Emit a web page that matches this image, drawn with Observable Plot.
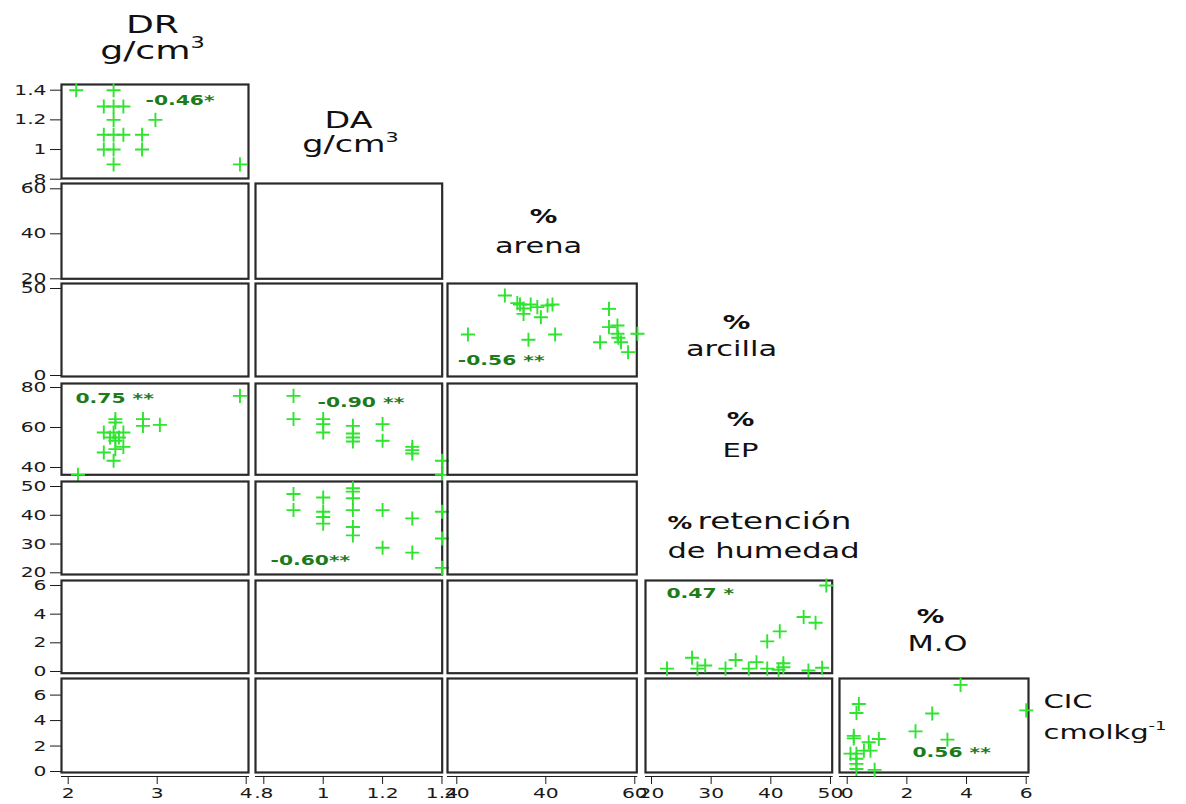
<!DOCTYPE html>
<html>
<head>
<meta charset="utf-8">
<script src="https://cdn.jsdelivr.net/npm/d3@7"></script>
<script src="https://cdn.jsdelivr.net/npm/@observablehq/plot@0.6"></script>
<style>
html, body { margin: 0; padding: 0; background: #fff; }
#chart { position: relative; width: 1186px; height: 804px; overflow: hidden; background: #fff; font-family: "DejaVu Sans", sans-serif; }
#chart .cell { position: absolute; }
#chart svg { overflow: visible; display: block; }
</style>
</head>
<body>
<div id="chart"></div>
<script>
// ---------------- DATA ----------------
// variables (rows / columns of the lower-triangular scatterplot matrix)
const colVars = ["DR", "DA", "arena", "ret", "MO"];
const rowVars = ["DA", "arena", "arcilla", "EP", "ret", "MO", "CIC"];
const panelsPerRow = [1, 2, 3, 3, 3, 4, 5];

// axis tick values per variable
const ticksDR = [2, 3, 4];
const ticksDA = [0.8, 1, 1.2, 1.4];
const ticksArena = [20, 40, 60];
const ticksArcilla = [0, 50];
const ticksEP = [40, 60, 80];
const ticksRet = [20, 30, 40, 50];
const ticksMO = [0, 2, 4, 6];
const ticksCIC = [0, 2, 4, 6];

// DR vs DA
const drDA_DR = [2.09, 2.51, 2.40, 2.51, 2.62, 2.51, 2.98, 2.40, 2.51, 2.62, 2.83, 2.40, 2.51, 2.83, 2.51, 3.93];
const drDA_DA = [1.40, 1.40, 1.29, 1.29, 1.29, 1.20, 1.20, 1.10, 1.10, 1.10, 1.10, 1.00, 1.00, 1.00, 0.90, 0.90];
// arena vs arcilla
const arAc_arena = [30.8, 33.6, 34.2, 35.0, 35.0, 36.6, 38.1, 38.9, 40.4, 41.5, 22.5, 36.1, 42.1, 54.2, 54.2, 56.1, 56.1, 52.2, 56.9, 60.6, 58.5, 56.3];
const arAc_arcilla = [46.0, 41.6, 40.8, 35.4, 38.5, 40.8, 39.3, 33.5, 40.2, 40.8, 23.6, 20.5, 23.6, 38.3, 27.8, 28.7, 24.0, 19.1, 19.1, 24.0, 13.4, 21.7];
// DR vs EP
const drEP_DR = [3.93, 2.53, 2.53, 2.84, 2.84, 3.03, 2.40, 2.51, 2.62, 2.47, 2.57, 2.53, 2.62, 2.53, 2.40, 2.51, 2.11];
const drEP_EP = [75.8, 64.2, 62.5, 64.2, 60.8, 61.3, 57.5, 57.5, 57.5, 55.0, 55.0, 53.4, 50.3, 49.2, 47.5, 43.4, 36.3];
// DA vs EP
const daEP_DA = [0.9, 0.9, 1.0, 1.0, 1.0, 1.1, 1.1, 1.1, 1.1, 1.2, 1.2, 1.3, 1.3, 1.3, 1.4, 1.4];
const daEP_EP = [75.8, 64.2, 64.2, 61.7, 57.5, 60.8, 57.0, 55.0, 53.0, 61.7, 53.4, 50.3, 48.7, 47.0, 43.4, 36.3];
// DA vs % retención de humedad
const daRet_DA = [0.9, 0.9, 1.0, 1.0, 1.0, 1.0, 1.1, 1.1, 1.1, 1.1, 1.1, 1.1, 1.2, 1.2, 1.3, 1.3, 1.4, 1.4, 1.4];
const daRet_ret = [47.4, 41.8, 46.2, 41.2, 39.4, 37.1, 49.4, 48.2, 45.9, 41.8, 35.9, 33.0, 41.8, 28.7, 38.9, 27.0, 41.2, 31.9, 21.7];
// % retención vs % M.O
const retMO_ret = [49.3, 45.5, 47.5, 41.5, 39.4, 22.6, 26.8, 27.7, 29.0, 32.4, 34.1, 36.3, 37.6, 39.4, 42.1, 42.1, 41.3, 46.3, 48.6];
const retMO_MO = [6.0, 3.8, 3.4, 2.8, 2.1, 0.2, 0.96, 0.2, 0.42, 0.2, 0.8, 0.2, 0.65, 0.2, 0.58, 0.3, 0.12, 0.07, 0.26];
// % M.O vs CIC
const moCIC_MO = [3.8, 6.0, 0.39, 0.31, 2.85, 2.29, 3.36, 0.22, 0.22, 0.72, 1.06, 0.56, 0.78, 0.11, 0.31, 0.31, 0.31, 0.31, 0.92];
const moCIC_CIC = [6.8, 4.8, 5.3, 4.6, 4.55, 3.15, 2.5, 2.8, 2.6, 2.3, 2.55, 1.64, 1.64, 1.4, 1.4, 1.0, 0.6, 0.2, 0.13];

// correlation labels
const corrLabels = {"0,0": "-0.46*", "2,2": "-0.56 **", "3,0": "0.75 **", "3,1": "-0.90 **", "4,1": "-0.60**", "5,3": "0.47 *", "6,4": "0.56 **"};

// diagonal variable titles
const titleLines = [
  ["DR", "g/cm³"],
  ["DA", "g/cm³"],
  ["%", "arena"],
  ["%", "arcilla"],
  ["%", "EP"],
  ["%", "retención", "de humedad"],
  ["%", "M.O"],
  ["CIC", "cmolkg⁻¹"]
];

// ---------------- BUILD ----------------
const zip = (a, b) => a.map((v, i) => ({x: v, y: b[i]}));
const panelData = {
  "0,0": zip(drDA_DR, drDA_DA),
  "2,2": zip(arAc_arena, arAc_arcilla),
  "3,0": zip(drEP_DR, drEP_EP),
  "3,1": zip(daEP_DA, daEP_EP),
  "4,1": zip(daRet_DA, daRet_ret),
  "5,3": zip(retMO_ret, retMO_MO),
  "6,4": zip(moCIC_MO, moCIC_CIC)
};
const varTicks = {DR: ticksDR, DA: ticksDA, arena: ticksArena, arcilla: ticksArcilla, EP: ticksEP, ret: ticksRet, MO: ticksMO, CIC: ticksCIC};

// ---------------- LAYOUT (pixels) ----------------
const colFrame = [[61, 248], [255, 441.7], [446.7, 636], [645, 831.7], [839, 1028]];
const colTickPx = [[67.7, 245.7], [263.3, 441.5], [456, 634], [651, 830], [846.7, 1025.7]];
const rowFrame = [[84.3, 178.3], [182.7, 278], [283, 376], [382.7, 474], [481, 574], [580, 672.7], [677.7, 771.7]];
const rowTickPx = [[90, 179], [188, 278], [288, 375], [386.7, 466.7], [486, 572.3], [585, 671], [694.3, 770.7]];
const corrPos = {"0,0": [145, 100], "2,2": [457, 360], "3,0": [75, 398], "3,1": [317, 402], "4,1": [270, 560], "5,3": [666, 593], "6,4": [912, 752]};
const titleLayout = [
  [{x: 152, y: 32, s: 25}, {x: 152, y: 58, s: 25}],
  [{x: 348, y: 127, s: 23}, {x: 350, y: 151, s: 23}],
  [{x: 543, y: 222, s: 19, b: 1}, {x: 538, y: 252, s: 21}],
  [{x: 736, y: 328, s: 19, b: 1}, {x: 731, y: 355, s: 21}],
  [{x: 740, y: 425, s: 19, b: 1}, {x: 740, y: 456, s: 20}],
  [{x: 667, y: 528, s: 17, b: 1, a: "start"}, {x: 697, y: 528, s: 22.5, a: "start"}, {x: 667, y: 557, s: 21, a: "start"}],
  [{x: 930, y: 622, s: 19, b: 1}, {x: 937, y: 650, s: 21}],
  [{x: 1043, y: 707, s: 20, a: "start"}, {x: 1043, y: 738, s: 20, a: "start"}]
];

const GREEN = "#2ee42e", DKGREEN = "#1c7c1c", FRAME = "#2a2a2a", INK = "#1a1a1a";
const STRETCH = 1.45;
const chart = document.getElementById("chart");
const fmt = d => String(d).replace(/^0\./, ".");

function supify(svg) {
  const map = {"⁻": "-", "¹": "1", "²": "2", "³": "3"};
  svg.querySelectorAll("text").forEach(t => {
    if (t.querySelector("tspan")) return;
    const m = (t.textContent || "").match(/^(.*?)([⁻¹²³]+)$/);
    if (!m) return;
    t.textContent = m[1];
    const ts = document.createElementNS("http://www.w3.org/2000/svg", "tspan");
    ts.setAttribute("font-size", "0.62em");
    ts.setAttribute("dy", "-0.7em");
    ts.textContent = [...m[2]].map(c => map[c]).join("");
    t.appendChild(ts);
  });
}
function stretch(svg, s) {
  svg.querySelectorAll("text").forEach(t => {
    const x = parseFloat(t.getAttribute("x")) || 0;
    const tr = t.getAttribute("transform") || "";
    t.setAttribute("transform", `${tr} translate(${x},0) scale(${s},1) translate(${-x},0)`);
  });
}
function place(svg, left, top, w) {
  supify(svg);
  stretch(svg, STRETCH);
  const d = document.createElement("div");
  d.className = "cell";
  d.style.left = left + "px";
  d.style.top = top + "px";
  d.style.width = w + "px";
  d.appendChild(svg);
  chart.appendChild(d);
}
const baseStyle = {background: "transparent", overflow: "visible", fontFamily: "DejaVu Sans", fontSize: "14px", color: INK, maxWidth: "none"};

function makePanel(r, c) {
  const key = `${r},${c}`;
  const [fl, fr] = colFrame[c], [ft, fb] = rowFrame[r];
  const xv = colVars[c], yv = rowVars[r];
  const xt = varTicks[xv], yt = varTicks[yv];
  const isLeft = c === 0, isBottom = r === 6;
  const gap = isBottom ? 4 : 0;
  const mL = isLeft ? 64 : 8, mR = 10, mT = 10, mB = isBottom ? 34 : 8;
  const W = fr - fl, H = fb - ft + gap;
  const [xp0, xp1] = colTickPx[c], [yp0, yp1] = rowTickPx[r];
  const marks = [
    Plot.frame({stroke: FRAME, strokeWidth: 2.2, insetBottom: gap}),
    Plot.dot(panelData[key] || [], {x: "x", y: "y", symbol: "plus", r: 4.6, stroke: GREEN, strokeWidth: 1.9})
  ];
  if (corrLabels[key]) {
    const [px, py] = corrPos[key];
    marks.push(Plot.text([corrLabels[key]], {text: d => d, frameAnchor: "top-left", dx: px - fl, dy: py - ft,
      textAnchor: "start", lineAnchor: "middle", fontWeight: "bold", fontSize: 14, fill: DKGREEN}));
  }
  const svg = Plot.plot({
    width: W + mL + mR, height: H + mT + mB,
    marginLeft: mL, marginRight: mR, marginTop: mT, marginBottom: mB,
    style: baseStyle,
    x: {domain: [d3.min(xt), d3.max(xt)], ticks: xt, tickFormat: fmt, insetLeft: xp0 - fl, insetRight: fr - xp1,
        axis: isBottom ? "bottom" : null, tickSize: 8, tickPadding: 4, line: isBottom, label: null},
    y: {domain: [d3.min(yt), d3.max(yt)], ticks: yt, tickFormat: fmt, insetTop: yp0 - ft, insetBottom: fb - yp1 + gap,
        axis: isLeft ? "left" : null, tickSize: 11, tickPadding: 4, label: null},
    marks
  });
  place(svg, fl - mL, ft - mT, W + mL + mR);
}

for (let r = 0; r < rowVars.length; ++r)
  for (let c = 0; c < panelsPerRow[r]; ++c) makePanel(r, c);

// diagonal titles
titleLines.forEach((lines, k) => {
  lines.forEach((txt, j) => {
    const L = titleLayout[k][j];
    const start = L.a === "start";
    const w = 300, h = 40;
    const svg = Plot.plot({
      width: w, height: h, margin: 0, style: baseStyle,
      marks: [Plot.text([txt], {text: d => d, frameAnchor: start ? "bottom-left" : "bottom", lineAnchor: "bottom",
        textAnchor: start ? "start" : "middle", fontSize: L.s, fontWeight: L.b ? "bold" : "normal", fill: "#111"})]
    });
    place(svg, start ? L.x : L.x - w / 2, L.y - h, w);
  });
});
</script>
</body>
</html>
